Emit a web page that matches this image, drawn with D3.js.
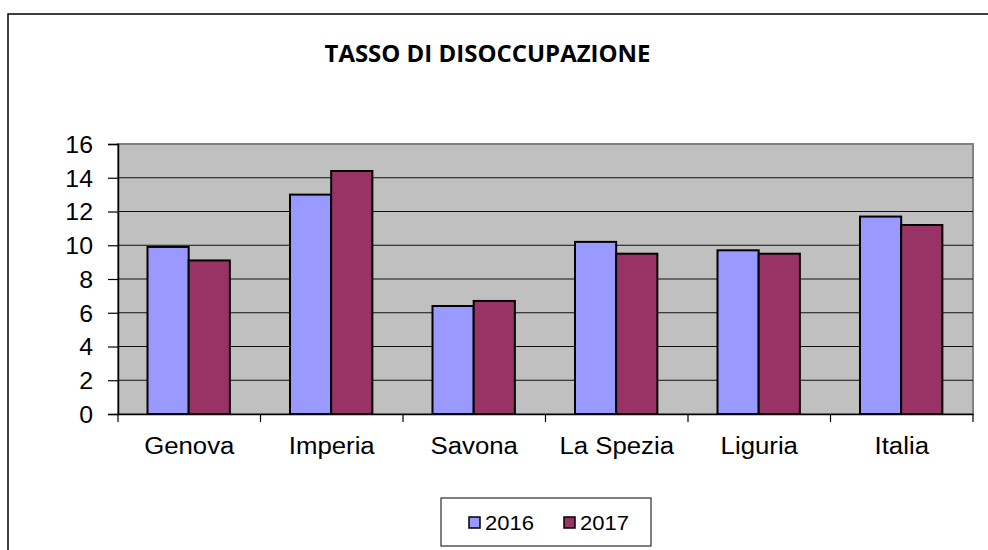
<!DOCTYPE html>
<html>
<head>
<meta charset="utf-8">
<script src="https://cdn.jsdelivr.net/npm/d3@7"></script>
<style>
  body { margin: 0; background: #fff; }
  svg { display: block; }
</style>
</head>
<body>
<div id="chart"></div>
<script>
const categories = ["Genova", "Imperia", "Savona", "La Spezia", "Liguria", "Italia"];
const years = ["2016", "2017"];
const values2016 = [9.9, 13.0, 6.4, 10.2, 9.7, 11.7];
const values2017 = [9.1, 14.4, 6.7, 9.5, 9.5, 11.2];
const yTicks = [0, 2, 4, 6, 8, 10, 12, 14, 16];
const colors = ["#9999FF", "#993366"];

const W = 988, H = 550;
const plot = {left: 118, right: 973, top: 144, bottom: 414};

const data = categories.map((c, i) => ({cat: c, vals: [values2016[i], values2017[i]]}));

const svg = d3.select('#chart').append('svg').attr('width', W).attr('height', H);

// stretch text a bit wider, the original font is wider than Arial
function stretch(sel, k) {
    sel.each(function() {
        const len = this.getComputedTextLength();
        d3.select(this).attr('textLength', len * k).attr('lengthAdjust', 'spacingAndGlyphs');
    });
}

// outer chart border (right and bottom are cut off)
svg.append('rect')
    .attr('x', 8).attr('y', 14)
    .attr('width', W + 20).attr('height', H + 20)
    .attr('fill', '#fff').attr('stroke', '#000').attr('stroke-width', 1.5);

svg.append('text')
    .attr('x', 487.5).attr('y', 62)
    .attr('text-anchor', 'middle')
    .style('font-family', '"Open Sans", sans-serif')
    .style('font-weight', 'bold')
    .style('font-size', '23px')
    .attr('textLength', 326).attr('lengthAdjust', 'spacingAndGlyphs')
    .text("TASSO DI DISOCCUPAZIONE");

const x0 = d3.scaleBand().domain(categories).range([plot.left, plot.right]);
const x1 = d3.scaleBand().domain(years).range([x0.bandwidth() * 0.207, x0.bandwidth() * 0.785]);
const y = d3.scaleLinear().domain([0, 16]).range([plot.bottom, plot.top]);

// plot background
svg.append('rect')
    .attr('x', plot.left).attr('y', plot.top)
    .attr('width', plot.right - plot.left).attr('height', plot.bottom - plot.top)
    .attr('fill', '#C0C0C0').attr('stroke', '#808080').attr('stroke-width', 2);

// grid
svg.append('g')
    .selectAll('line')
    .data(yTicks.filter(d => d > 0 && d < 16))
    .enter()
    .append('line')
    .attr('x1', plot.left).attr('x2', plot.right)
    .attr('y1', d => y(d)).attr('y2', d => y(d))
    .attr('stroke', '#111').attr('stroke-width', 1);

// bars
const groups = svg.append('g')
    .selectAll('g')
    .data(data)
    .enter()
    .append('g')
    .attr('transform', d => `translate(${x0(d.cat)},0)`);

groups.selectAll('rect')
    .data(d => d.vals.map((v, i) => ({year: years[i], v: v, i: i})))
    .enter()
    .append('rect')
    .attr('x', d => x1(d.year))
    .attr('width', x1.bandwidth())
    .attr('y', d => y(d.v))
    .attr('height', d => y(0) - y(d.v))
    .attr('fill', d => colors[d.i])
    .attr('stroke', '#000').attr('stroke-width', 2);

// y axis
const yAxis = svg.append('g')
    .attr('transform', `translate(${plot.left},0)`)
    .call(d3.axisLeft(y).tickValues(yTicks).tickSize(10).tickPadding(15));
yAxis.select('.domain').attr('stroke', '#000').attr('stroke-width', 1.5);
yAxis.selectAll('.tick line').attr('stroke', '#000').attr('stroke-width', 1.2);
yAxis.selectAll('text')
    .style('font-family', '"Liberation Sans", Arial, sans-serif')
    .style('font-size', '23px')
    .attr('fill', '#000')
    .attr('dy', '0.36em');
stretch(yAxis.selectAll('text'), 1.08);

// x axis
const xAxis = svg.append('g')
    .attr('transform', `translate(0,${plot.bottom})`)
    .call(d3.axisBottom(x0).tickSize(0).tickPadding(24));
xAxis.select('.domain').attr('stroke', '#000').attr('stroke-width', 1.5);
xAxis.selectAll('text')
    .style('font-family', '"Liberation Sans", Arial, sans-serif')
    .style('font-size', '23px')
    .attr('fill', '#000');
stretch(xAxis.selectAll('text'), 1.12);

// category separator ticks
const seps = categories.map(c => x0(c)).concat([plot.right]);
xAxis.selectAll('.sep')
    .data(seps)
    .enter()
    .append('line')
    .attr('class', 'sep')
    .attr('x1', d => d).attr('x2', d => d)
    .attr('y1', 0).attr('y2', 8)
    .attr('stroke', '#000').attr('stroke-width', 1.2);

// legend
const legend = svg.append('g').attr('class', 'legend');
legend.append('rect')
    .attr('x', 441).attr('y', 498)
    .attr('width', 210).attr('height', 48)
    .attr('fill', '#fff').attr('stroke', '#000').attr('stroke-width', 1);

const legendX = [469, 564];
legend.selectAll('.sw')
    .data(years)
    .enter()
    .append('rect')
    .attr('class', 'sw')
    .attr('x', (d, i) => legendX[i]).attr('y', 517)
    .attr('width', 11).attr('height', 11)
    .attr('fill', (d, i) => colors[i])
    .attr('stroke', '#000').attr('stroke-width', 1.5);

const ltext = legend.selectAll('.lt')
    .data(years)
    .enter()
    .append('text')
    .attr('class', 'lt')
    .attr('x', (d, i) => legendX[i] + 16).attr('y', 530)
    .style('font-family', '"Liberation Sans", Arial, sans-serif')
    .style('font-size', '20px')
    .text(d => d);
stretch(ltext, 1.1);
</script>
</body>
</html>
